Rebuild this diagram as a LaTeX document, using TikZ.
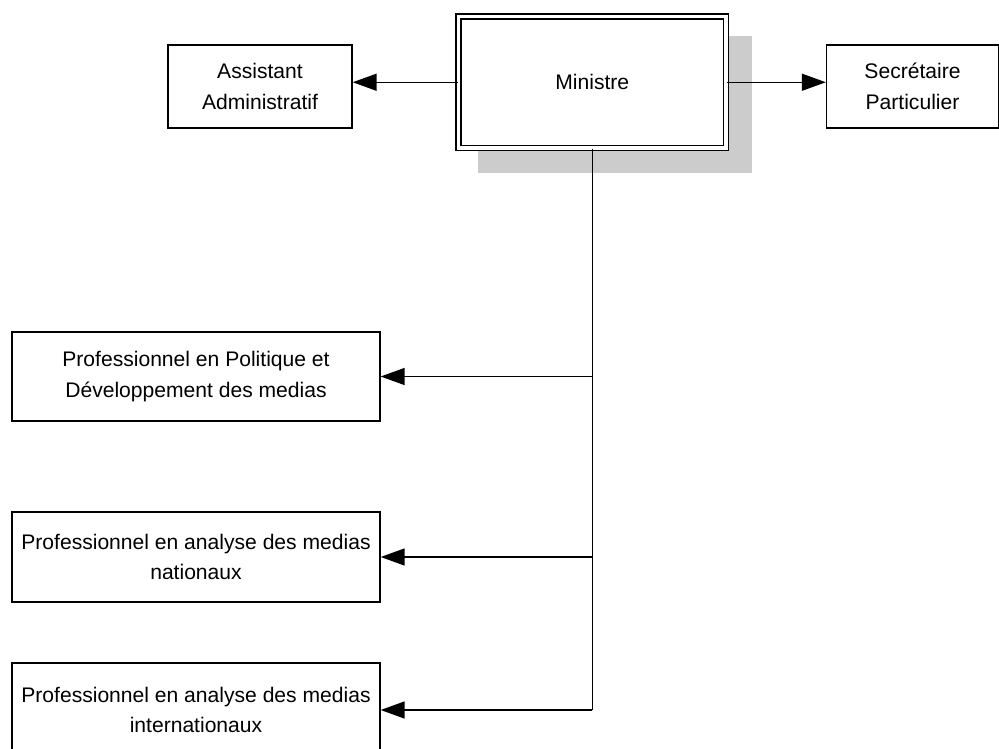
\documentclass[tikz,border=0pt]{standalone}
\usepackage{fontspec}
\setmainfont{Liberation Sans}
\usetikzlibrary{arrows.meta}
\tikzset{
  unit/.style={draw, line width=0.8pt, align=center, inner sep=0pt,
    font=\fontsize{12}{17.5}\selectfont},
  link/.style={line width=0.8pt, -{Triangle[length=0.48cm,width=0.34cm]}}
}
\begin{document}
\begin{tikzpicture}[x=0.02cm,y=-0.02cm]
    \useasboundingbox (0,0) rectangle (999,749);
    % Shadow of the head box
    \fill[black!20] (478,36) rectangle (752,173);
    % Head box
    \node[unit, double, double distance=2pt, fill=white,
      minimum width=5.35cm, minimum height=2.63cm] (min) at (592.25,82.25) {Ministre};
    % Side boxes
    \node[unit, minimum width=3.68cm, minimum height=1.66cm] (asst) at (260,86.5)
      {Assistant\\Administratif};
    \node[unit, minimum width=3.44cm, minimum height=1.66cm] (sec) at (912.5,86.5)
      {Secrétaire\\Particulier};
    % Lower boxes
    \node[unit, minimum width=7.36cm, minimum height=1.78cm] (pol) at (196,376.5)
      {Professionnel en Politique et\\Développement des medias};
    \node[unit, minimum width=7.36cm, minimum height=1.8cm] (nat) at (196,557)
      {Professionnel en analyse des medias\\nationaux};
    \node[unit, minimum width=7.36cm, minimum height=1.88cm] (int) at (196,710)
      {Professionnel en analyse des medias\\internationaux};
    % Connectors
    \draw[link] (min.west) -- (min.west -| asst.east);
    \draw[link] (min.east) -- (min.east -| sec.west);
    \draw[line width=0.8pt] (min.south) -- (min.south |- int.east);
    \draw[link] (min.south |- pol.east) -- (pol.east);
    \draw[link] (min.south |- nat.east) -- (nat.east);
    \draw[link] (min.south |- int.east) -- (int.east);
\end{tikzpicture}
\end{document}
